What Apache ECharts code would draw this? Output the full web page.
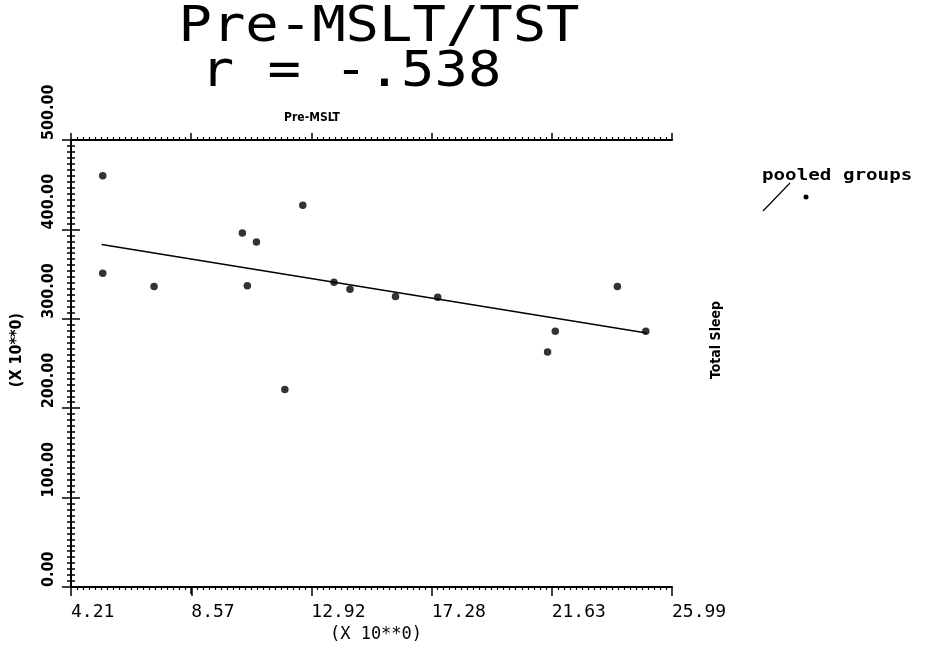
<!DOCTYPE html>
<html>
<head>
<meta charset="utf-8">
<script src="https://cdn.jsdelivr.net/npm/echarts@6/dist/echarts.min.js"></script>
<style>
html,body{margin:0;padding:0;background:#fff;}
#chart{width:926px;height:649px;}
</style>
</head>
<body>
<div id="chart"></div>
<script>
// ---- data ----
const preMSLT = [5.36, 5.36, 7.22, 10.42, 10.93, 10.60, 12.61, 11.96, 13.74, 14.32, 15.97, 17.50, 21.76, 21.48, 24.01, 25.04];
const totalSleep = [460, 351, 336, 396, 386, 337, 427, 221, 341, 333, 325, 324, 286, 263, 336, 286];
const regressionX = [5.32, 25.07];
const regressionY = [383, 284];
const xTickValues = [4.21, 8.57, 12.92, 17.28, 21.63, 25.99];
const yTickValues = [0, 100, 200, 300, 400, 500];
const titleLine1 = 'Pre-MSLT/TST';
const titleLine2 = 'r = -.538';
const seriesName = 'pooled groups';

// ---- chart ----
const chart = echarts.init(document.getElementById('chart'));
const xMin = xTickValues[0], xMax = xTickValues[xTickValues.length - 1];
const xStep = (xMax - xMin) / (xTickValues.length - 1);
const yStep = yTickValues[1] - yTickValues[0];
const black = '#000';
const monoFont = '"DejaVu Sans Mono", monospace';
const condFont = '"DejaVu Sans Condensed", "Liberation Sans Narrow", "DejaVu Sans", sans-serif';

function minorAxis(position, withLine) {
  return {
    type: 'value', position: position,
    min: 0, max: xMax - xMin, interval: xStep,
    axisLine: { show: withLine, lineStyle: { color: black, width: 2 } },
    axisTick: { show: true, inside: false, length: 7, lineStyle: { color: black, width: 1.5 } },
    minorTick: { show: true, splitNumber: 20, length: 3, lineStyle: { color: black, width: 1.2 } },
    axisLabel: { show: false },
    splitLine: { show: false }, minorSplitLine: { show: false }
  };
}

const option = {
  backgroundColor: '#fff',
  animation: false,
  grid: { left: 71, right: 254, top: 140, bottom: 62, containLabel: false },
  xAxis: [
    {
      type: 'value', position: 'bottom', min: xMin, max: xMax,
      axisLine: { show: true, lineStyle: { color: black, width: 2 } },
      axisTick: { show: true, customValues: xTickValues, length: 9, inside: false, lineStyle: { color: black, width: 1.5 } },
      axisLabel: {
        show: true, customValues: xTickValues, align: 'left', margin: 16,
        formatter: v => v.toFixed(2),
        fontFamily: monoFont, fontSize: 18, color: black
      },
      splitLine: { show: false }
    },
    minorAxis('bottom', false),
    minorAxis('top', true)
  ],
  yAxis: [
    {
      type: 'value', position: 'left', min: yTickValues[0], max: yTickValues[yTickValues.length - 1], interval: yStep,
      axisLine: { show: true, lineStyle: { color: black, width: 2 } },
      axisTick: { show: true, inside: false, length: 9, lineStyle: { color: black, width: 1.5 } },
      minorTick: { show: true, splitNumber: 15, length: 4, lineStyle: { color: black, width: 1.5 } },
      axisLabel: {
        show: true, rotate: 90, align: 'left', verticalAlign: 'middle', margin: 22,
        formatter: v => v.toFixed(2),
        fontFamily: condFont, fontWeight: 'bold', fontSize: 16, color: black
      },
      splitLine: { show: false }, minorSplitLine: { show: false }
    },
    {
      type: 'value', position: 'right', min: yTickValues[0], max: yTickValues[yTickValues.length - 1], interval: yStep,
      axisLine: { show: true, lineStyle: { color: black, width: 2 } },
      axisTick: { show: true, inside: false, length: 9, lineStyle: { color: black, width: 1.5 } },
      minorTick: { show: true, splitNumber: 15, length: 4, lineStyle: { color: black, width: 1.5 } },
      axisLabel: { show: false },
      splitLine: { show: false }, minorSplitLine: { show: false }
    }
  ],
  series: [
    {
      name: seriesName, type: 'scatter', xAxisIndex: 0, yAxisIndex: 0,
      symbol: 'circle', symbolSize: 7.5,
      itemStyle: { color: black },
      data: preMSLT.map((x, i) => [x, totalSleep[i]])
    },
    {
      name: 'regression', type: 'line', xAxisIndex: 0, yAxisIndex: 0,
      showSymbol: false, symbol: 'none',
      lineStyle: { color: black, width: 1.5 },
      data: regressionX.map((x, i) => [x, regressionY[i]])
    }
  ],
  graphic: [
    { type: 'text', x: 379, y: 28, scaleX: 1.11, style: { text: titleLine1, font: '50px ' + monoFont, fill: black, textAlign: 'center', textVerticalAlign: 'middle' } },
    { type: 'text', x: 351, y: 73, scaleX: 1.11, style: { text: titleLine2, font: '50px ' + monoFont, fill: black, textAlign: 'center', textVerticalAlign: 'middle' } },
    { type: 'text', x: 312, y: 118, style: { text: 'Pre-MSLT', font: 'bold 12px ' + condFont, fill: black, textAlign: 'center', textVerticalAlign: 'middle' } },
    { type: 'text', x: 376, y: 635, style: { text: '(X 10**0)', font: '17px ' + monoFont, fill: black, textAlign: 'center', textVerticalAlign: 'middle' } },
    { type: 'text', x: 17, y: 350, rotation: Math.PI / 2, style: { text: '(X 10**0)', font: 'bold 16px ' + condFont, fill: black, textAlign: 'center', textVerticalAlign: 'middle' } },
    { type: 'text', x: 716, y: 340, rotation: Math.PI / 2, style: { text: 'Total Sleep', font: 'bold 14px ' + condFont, fill: black, textAlign: 'center', textVerticalAlign: 'middle' } },
    { type: 'text', x: 762, y: 176, scaleX: 1.2, style: { text: seriesName, font: 'bold 16px ' + monoFont, fill: black, textAlign: 'left', textVerticalAlign: 'middle' } },
    { type: 'line', shape: { x1: 763, y1: 211, x2: 790, y2: 183 }, style: { stroke: black, lineWidth: 1.2 } },
    { type: 'circle', shape: { cx: 806, cy: 197, r: 2.5 }, style: { fill: black } }
  ]
};
chart.setOption(option);
</script>
</body>
</html>
